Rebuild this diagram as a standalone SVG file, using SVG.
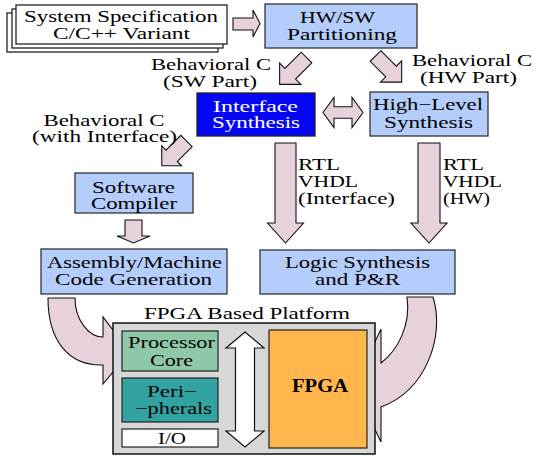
<svg xmlns="http://www.w3.org/2000/svg" width="533" height="460" viewBox="0 0 533 460" font-family="Liberation Serif, serif">
<style>
text{font-family:'Liberation Serif',serif;font-size:16px;fill:#000;text-anchor:middle}
.l{text-anchor:start}
.box{fill:#b4cdfb;stroke:#333;stroke-width:1.3}
.arr{fill:#e6d1dd;stroke:#111;stroke-width:1.1;stroke-linejoin:miter}
.page{fill:#fff;stroke:#222;stroke-width:1.3}
</style>
<g id="connectors">
<polygon class="arr" points="233,18 253,18 253,10 260,23.5 253,37 253,30 233,30"/>
<polygon class="arr" transform="translate(306.5,57.5) rotate(135)" points="0,-7.5 23,-7.5 23,-15 38,0 23,15 23,7.5 0,7.5"/>
<polygon class="arr" transform="translate(375.5,56) rotate(45)" points="0,-7.5 22,-7.5 22,-15 37,0 22,15 22,7.5 0,7.5"/>
<polygon class="arr" points="323,112.5 334,97.5 334,106.7 352,106.7 352,97.5 363,112.5 352,127.5 352,118.3 334,118.3 334,127.5"/>
<polygon class="arr" transform="translate(186.5,141) rotate(135)" points="0,-8 21,-8 21,-14 35,0 21,14 21,8 0,8"/>
<polygon class="arr" points="275,143 296,143 296,223 303.5,223 285.5,243 267.5,223 275,223"/>
<polygon class="arr" points="418,143 440,143 440,223 447,223 429,243 411,223 418,223"/>
<polygon class="arr" points="125,220 142,220 142,236 150,236 133.5,243 117,236 125,236"/>
<path class="arr" d="M48,298 L75,298 C75,319 88,337 103,337 L103,317 L129.5,352 L103,384 L103,365 C68,366 48,340 48,298 Z"/>
<path class="arr" d="M407,297 L433,297 C445,335 427,390 381,407 L381,442 L354,386 L381,329 L381,363 C398,350 411,325 407,297 Z"/>
</g>
<g id="labels">
<text x="211" y="70" textLength="120" lengthAdjust="spacingAndGlyphs">Behavioral C</text>
<text x="210" y="87" textLength="94" lengthAdjust="spacingAndGlyphs">(SW Part)</text>
<text x="472" y="66" textLength="120" lengthAdjust="spacingAndGlyphs">Behavioral C</text>
<text x="468.5" y="83" textLength="97" lengthAdjust="spacingAndGlyphs">(HW Part)</text>
<text x="104" y="126" textLength="121" lengthAdjust="spacingAndGlyphs">Behavioral C</text>
<text x="104.5" y="142" textLength="145" lengthAdjust="spacingAndGlyphs">(with Interface)</text>
<text class="l" x="298" y="170" textLength="42" lengthAdjust="spacingAndGlyphs">RTL</text>
<text class="l" x="298" y="187" textLength="60" lengthAdjust="spacingAndGlyphs">VHDL</text>
<text class="l" x="298" y="204" textLength="97" lengthAdjust="spacingAndGlyphs">(Interface)</text>
<text class="l" x="443" y="170" textLength="41" lengthAdjust="spacingAndGlyphs">RTL</text>
<text class="l" x="443" y="187" textLength="59" lengthAdjust="spacingAndGlyphs">VHDL</text>
<text class="l" x="443" y="204" textLength="47" lengthAdjust="spacingAndGlyphs">(HW)</text>
</g>
<g id="spec">
<rect class="page" x="7" y="13" width="211" height="39"/>
<rect class="page" x="12" y="9" width="211" height="39"/>
<rect class="page" x="16" y="5" width="211" height="39"/>
<text x="121" y="22" textLength="194" lengthAdjust="spacingAndGlyphs">System Specification</text>
<text x="121.5" y="39" textLength="137" lengthAdjust="spacingAndGlyphs">C/C++ Variant</text>
</g>
<g id="partitioning">
<rect class="box" x="265" y="4" width="152" height="44"/>
<text x="337.5" y="23" textLength="75" lengthAdjust="spacingAndGlyphs">HW/SW</text>
<text x="342" y="40" textLength="110" lengthAdjust="spacingAndGlyphs">Partitioning</text>
</g>
<g id="interface">
<rect x="197" y="93" width="118" height="43" fill="#0505f5" stroke="#222" stroke-width="1.3"/>
<text x="255.5" y="112" style="fill:#fff" textLength="85" lengthAdjust="spacingAndGlyphs">Interface</text>
<text x="256" y="128" style="fill:#fff" textLength="88" lengthAdjust="spacingAndGlyphs">Synthesis</text>
</g>
<g id="hls">
<rect class="box" x="370" y="92" width="118" height="44"/>
<text x="428" y="110" textLength="110" lengthAdjust="spacingAndGlyphs">High−Level</text>
<text x="428.5" y="128" textLength="89" lengthAdjust="spacingAndGlyphs">Synthesis</text>
</g>
<g id="compiler">
<rect class="box" x="75" y="173" width="118" height="40"/>
<text x="133.5" y="193" textLength="83" lengthAdjust="spacingAndGlyphs">Software</text>
<text x="134" y="209" textLength="86" lengthAdjust="spacingAndGlyphs">Compiler</text>
</g>
<g id="assembly">
<rect class="box" x="41" y="249" width="186" height="45"/>
<text x="134.5" y="268" textLength="175" lengthAdjust="spacingAndGlyphs">Assembly/Machine</text>
<text x="133.5" y="285" textLength="157" lengthAdjust="spacingAndGlyphs">Code Generation</text>
</g>
<g id="logic">
<rect class="box" x="260" y="250" width="195" height="44"/>
<text x="357.5" y="268" textLength="145" lengthAdjust="spacingAndGlyphs">Logic Synthesis</text>
<text x="357.5" y="285" textLength="85" lengthAdjust="spacingAndGlyphs">and P&amp;R</text>
</g>
<g id="platform">
<text x="247" y="319" textLength="206" lengthAdjust="spacingAndGlyphs">FPGA Based Platform</text>
<rect x="113" y="323" width="262" height="131" fill="#d7d7d7" stroke="#111" stroke-width="1.5"/>
</g>
<g id="processor">
<rect x="122" y="331" width="96" height="40" fill="#8fc8a8" stroke="#222" stroke-width="1.2"/>
<text x="171.5" y="348" textLength="87" lengthAdjust="spacingAndGlyphs">Processor</text>
<text x="171.5" y="366" textLength="43" lengthAdjust="spacingAndGlyphs">Core</text>
</g>
<g id="peripherals">
<rect x="122" y="378" width="96" height="44" fill="#31a3a1" stroke="#222" stroke-width="1.2"/>
<text x="172" y="397" textLength="50" lengthAdjust="spacingAndGlyphs">Peri−</text>
<text x="173.5" y="414" textLength="77" lengthAdjust="spacingAndGlyphs">−pherals</text>
</g>
<g id="io">
<rect x="122" y="429" width="96" height="18" fill="#fff" stroke="#222" stroke-width="1.2"/>
<text x="172" y="444" textLength="28" lengthAdjust="spacingAndGlyphs">I/O</text>
</g>
<g id="bus">
<polygon points="245,332 264,348 254.5,348 254.5,431 264,431 245,447 226,431 235.5,431 235.5,348 226,348" fill="#fff" stroke="#111" stroke-width="1.2"/>
</g>
<g id="fpga">
<rect x="269" y="330" width="98" height="118" fill="#ffb74d" stroke="#222" stroke-width="1.2"/>
<text x="320" y="392" style="font-weight:bold;font-size:18px" textLength="56" lengthAdjust="spacingAndGlyphs">FPGA</text>
</g>
</svg>
